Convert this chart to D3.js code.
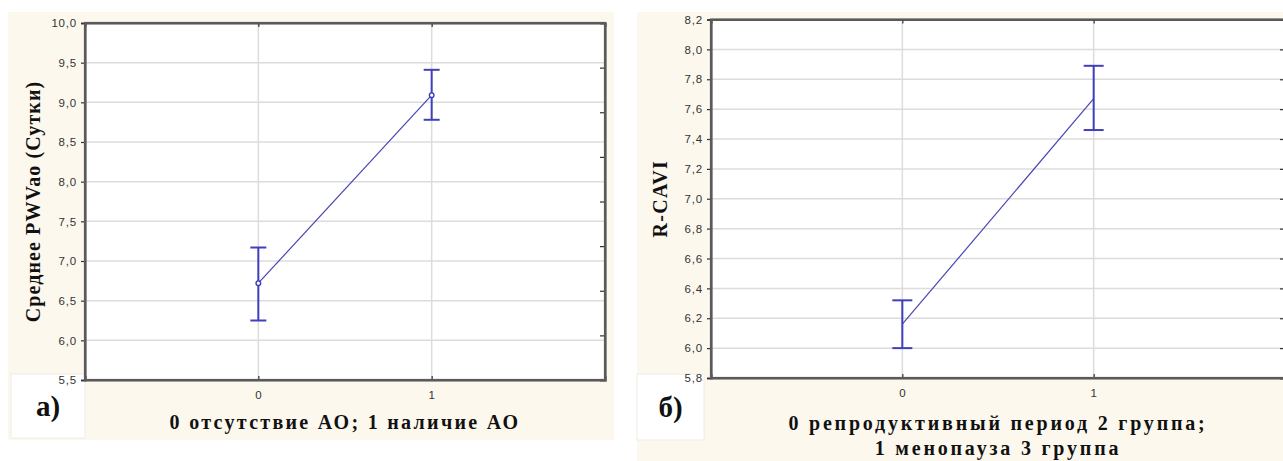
<!DOCTYPE html>
<html lang="ru">
<head>
<meta charset="UTF-8">
<title>PWVao и R-CAVI</title>
<script src="https://d3js.org/d3.v7.min.js"></script>
<style>
    body { margin: 0; background: #fff; }
    svg { display: block; }
    .tick text { font-family: "Liberation Sans", Arial, sans-serif; font-size: 11.5px; fill: #333; letter-spacing: 0.8px; }
    .title { font-family: "Liberation Serif", "Times New Roman", serif; font-weight: bold; fill: #111; }
</style>
</head>
<body>
<div id="chart"></div>
<script>
// group codes on the x axis
const groups = [0, 1];

// panel a) mean PWVao with error bars
const pwvMean = [6.72, 9.09];
const pwvLow = [6.25, 8.78];
const pwvHigh = [7.17, 9.41];
const pwvTicks = [5.5, 6.0, 6.5, 7.0, 7.5, 8.0, 8.5, 9.0, 9.5, 10.0];

// panel б) R-CAVI with error bars
const caviMean = [6.16, 7.67];
const caviLow = [6.00, 7.46];
const caviHigh = [6.32, 7.89];
const caviTicks = [5.8, 6.0, 6.2, 6.4, 6.6, 6.8, 7.0, 7.2, 7.4, 7.6, 7.8, 8.0, 8.2];

const W = 1283, H = 461;
const ru = d3.formatLocale({decimal: ",", thousands: " ", grouping: [3], currency: ["", ""]});
const fmt = ru.format(".1f");

const svg = d3.select("#chart").append("svg")
    .attr("width", W)
    .attr("height", H);

function panel(o) {
    const g = svg.append("g");

    // cream background of the panel
    g.append("rect")
        .attr("x", o.bg[0]).attr("y", o.bg[1])
        .attr("width", o.bg[2]).attr("height", o.bg[3])
        .attr("fill", "#fdf8ee");

    const x = d3.scaleLinear().domain([-1, 2]).range([o.left, o.right]);
    const y = d3.scaleLinear().domain(d3.extent(o.ticks)).range([o.bottom, o.top]);

    // plot area
    g.append("rect")
        .attr("x", o.left).attr("y", o.top)
        .attr("width", o.right - o.left).attr("height", o.bottom - o.top)
        .attr("fill", "#fff");

    // letter box
    g.append("rect")
        .attr("x", o.box[0]).attr("y", o.box[1])
        .attr("width", o.box[2]).attr("height", o.box[3])
        .attr("fill", "#fff")
        .attr("stroke", "#f0ece4");
    g.append("text")
        .attr("class", "title")
        .attr("x", o.box[0] + o.box[2] / 2)
        .attr("y", o.box[1] + o.box[3] / 2)
        .attr("dy", "0.35em")
        .attr("text-anchor", "middle")
        .attr("font-size", 29)
        .text(o.letter);

    // grid
    g.append("g").selectAll("line.h")
        .data(o.ticks.slice(1, -1))
        .join("line")
        .attr("x1", o.left).attr("x2", o.right)
        .attr("y1", d => y(d)).attr("y2", d => y(d))
        .attr("stroke", "#dcdcdc").attr("stroke-width", 1.5);
    g.append("g").selectAll("line.v")
        .data(groups)
        .join("line")
        .attr("x1", d => x(d)).attr("x2", d => x(d))
        .attr("y1", o.top).attr("y2", o.bottom)
        .attr("stroke", "#dcdcdc").attr("stroke-width", 1.5);

    // axes
    g.append("g")
        .attr("transform", `translate(${o.left},0)`)
        .call(d3.axisLeft(y).tickValues(o.ticks).tickFormat(fmt).tickSize(4).tickPadding(4));
    g.append("g")
        .attr("transform", `translate(0,${o.bottom})`)
        .call(d3.axisBottom(x).tickValues(groups).tickFormat(d3.format("d")).tickSize(-4).tickPadding(11));
    g.append("g")
        .attr("transform", `translate(0,${o.top})`)
        .call(d3.axisTop(x).tickValues(groups).tickFormat("").tickSize(-4));
    const yR = o.rightDiv
        ? d3.scaleLinear().domain([0, o.rightDiv]).range([o.bottom, o.top])
        : y;
    g.append("g")
        .attr("transform", `translate(${o.right},0)`)
        .call(d3.axisRight(yR).tickValues(o.rightDiv ? d3.range(1, o.rightDiv) : o.ticks).tickFormat("").tickSize(-5));
    g.selectAll(".domain").attr("stroke", "#5a5a5a").attr("stroke-width", 2.2);
    g.selectAll(".tick line").attr("stroke", "#333").attr("stroke-width", 1.2);

    // frame
    g.append("rect")
        .attr("x", o.left).attr("y", o.top)
        .attr("width", o.right - o.left).attr("height", o.bottom - o.top)
        .attr("fill", "none")
        .attr("stroke", "#5a5a5a").attr("stroke-width", 2.2);

    // mean line
    const pts = groups.map((d, i) => [x(d), y(o.mean[i])]);
    g.append("path")
        .attr("d", d3.line()(pts))
        .attr("fill", "none")
        .attr("stroke", "#4646b4")
        .attr("stroke-width", 1.2);

    // error bars
    const eb = g.append("g").attr("stroke", "#4040bc").attr("stroke-width", 2);
    groups.forEach((d, i) => {
        eb.append("line")
            .attr("x1", x(d)).attr("x2", x(d))
            .attr("y1", y(o.low[i])).attr("y2", y(o.high[i]));
        [o.low[i], o.high[i]].forEach(v => {
            eb.append("line")
                .attr("x1", x(d) - o.cap).attr("x2", x(d) + o.cap)
                .attr("y1", y(v)).attr("y2", y(v));
        });
    });

    if (o.markers) {
        g.append("g").selectAll("circle")
            .data(groups)
            .join("circle")
            .attr("cx", d => x(d))
            .attr("cy", (d, i) => y(o.mean[i]))
            .attr("r", 2.3)
            .attr("fill", "#fff")
            .attr("stroke", "#3c3cbc")
            .attr("stroke-width", 1.4);
    }

    // axis titles
    g.append("text")
        .attr("class", "title")
        .attr("transform", `translate(${o.yTitleX},${(o.top + o.bottom) / 2}) rotate(-90)`)
        .attr("text-anchor", "middle")
        .attr("dy", "0.35em")
        .attr("font-size", 20)
        .attr("letter-spacing", o.yTitleSpacing)
        .text(o.yTitle);

    o.xTitle.forEach((t, i) => {
        g.append("text")
            .attr("class", "title")
            .attr("x", (o.left + o.right) / 2)
            .attr("y", o.xTitleY + i * 25)
            .attr("dy", "0.35em")
            .attr("text-anchor", "middle")
            .attr("font-size", 20)
            .attr("letter-spacing", o.xTitleSpacing)
            .text(t);
    });
}

panel({
    bg: [8, 12, 606, 428],
    left: 85, right: 605, top: 23, bottom: 380,
    ticks: pwvTicks, mean: pwvMean, low: pwvLow, high: pwvHigh,
    cap: 8, markers: true, rightDiv: 8,
    box: [11, 374, 74, 64], letter: "а)",
    yTitle: "Среднее PWVao (Сутки)", yTitleX: 33, yTitleSpacing: 1.1,
    xTitle: ["0 отсутствие АО; 1 наличие АО"], xTitleY: 422, xTitleSpacing: 2.3
});

panel({
    bg: [637, 12, 660, 449],
    left: 711, right: 1285, top: 19.5, bottom: 378,
    ticks: caviTicks, mean: caviMean, low: caviLow, high: caviHigh,
    cap: 10, markers: false, rightDiv: 0,
    box: [637, 374, 67, 66], letter: "б)",
    yTitle: "R-CAVI", yTitleX: 660, yTitleSpacing: 1.3,
    xTitle: ["0 репродуктивный период 2 группа;", "1 менопауза 3 группа"], xTitleY: 423, xTitleSpacing: 2.8
});
</script>
</body>
</html>
